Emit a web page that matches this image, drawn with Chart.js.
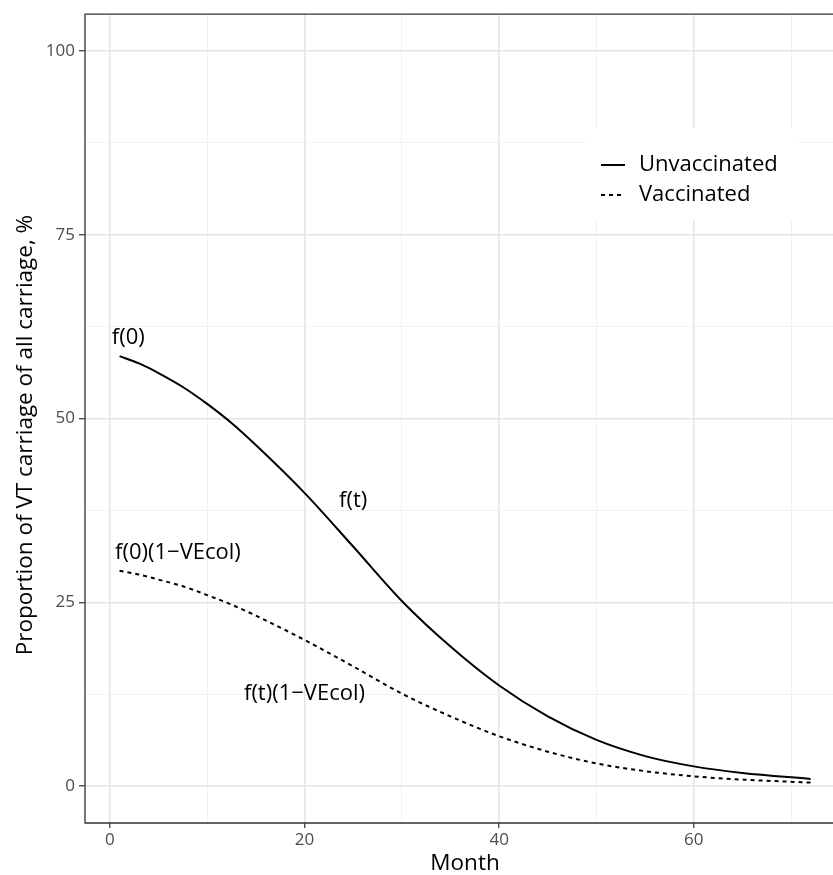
<!DOCTYPE html>
<html>
<head>
<meta charset="utf-8">
<script src="https://cdn.jsdelivr.net/npm/chart.js@4"></script>
<style>
    body { margin: 0; overflow: hidden; background: #fff; }
    #wrap { position: absolute; left: 0; top: 0; width: 833px; height: 875px; }
</style>
</head>
<body>
<div id="wrap"><canvas id="grafico"></canvas></div>
<script>
// valores
let meses = [1, 3, 5, 7.5, 10, 12.5, 15, 20, 25, 30, 35, 40, 45, 50, 55, 60, 65, 72];
let naoVacinados = [58.5, 57.5, 56.2, 54.3, 52.0, 49.4, 46.4, 39.9, 32.6, 25.2, 19.0, 13.7, 9.5, 6.3, 4.1, 2.7, 1.8, 1.0];
let vacinados = [29.3, 28.8, 28.1, 27.2, 26.0, 24.7, 23.2, 19.9, 16.3, 12.6, 9.5, 6.8, 4.7, 3.1, 2.05, 1.35, 0.9, 0.5];

let xTicks = [0, 10, 20, 30, 40, 50, 60, 70];
let xLabels = [0, 20, 40, 60];
let yTicks = [0, 12.5, 25, 37.5, 50, 62.5, 75, 87.5, 100];
let yLabels = [0, 25, 50, 75, 100];

let notasTexto = ["f(0)", "f(t)", "f(0)(1\u2212VEcol)", "f(t)(1\u2212VEcol)"];
let notasX = [1.9, 25, 7, 20];
let notasY = [61, 38.8, 31.8, 12.6];

let tituloY = "Proportion of VT carriage of all carriage, %";
let tituloX = "Month";

const fonte = "'Open Sans', 'DejaVu Sans', sans-serif";

function pontos(ys) {
    return meses.map((m, i) => ({ x: m, y: ys[i] }));
}

// moldura do painel, anotacoes, titulos dos eixos e legenda dentro do grafico
const extras = {
    id: "extras",
    afterDatasetsDraw(chart) {
        const ctx = chart.ctx;
        const xs = chart.scales.x, ys = chart.scales.y;
        const area = chart.chartArea;

        ctx.save();
        ctx.fillStyle = "#000";
        ctx.font = "22px " + fonte;
        ctx.textAlign = "center";
        ctx.textBaseline = "middle";
        notasTexto.forEach((t, i) => {
            ctx.fillText(t, xs.getPixelForValue(notasX[i]), ys.getPixelForValue(notasY[i]));
        });

        // legenda
        ctx.fillStyle = "#fff";
        ctx.fillRect(587, 128, 211, 92);
        chart.data.datasets.forEach((ds, i) => {
            let y = 165 + i * 30;
            ctx.beginPath();
            ctx.strokeStyle = ds.borderColor;
            ctx.lineWidth = ds.borderWidth;
            ctx.setLineDash(ds.borderDash || []);
            ctx.moveTo(601, y);
            ctx.lineTo(625, y);
            ctx.stroke();
            ctx.setLineDash([]);
            ctx.fillStyle = "#000";
            ctx.textAlign = "left";
            ctx.fillText(ds.label, 639, y);
        });

        // moldura (a borda direita fica fora da janela)
        ctx.strokeStyle = "#333";
        ctx.lineWidth = 1.3;
        ctx.beginPath();
        ctx.moveTo(area.right, area.top);
        ctx.lineTo(area.left, area.top);
        ctx.lineTo(area.left, area.bottom);
        ctx.lineTo(area.right, area.bottom);
        ctx.stroke();

        // titulos dos eixos
        ctx.fillStyle = "#000";
        ctx.font = "22.5px " + fonte;
        ctx.textAlign = "center";
        ctx.fillText(tituloX, 465, 864);
        ctx.translate(26, 435);
        ctx.rotate(-Math.PI / 2);
        ctx.fillText(tituloY, 0, 0);
        ctx.restore();
    }
};

let ctx = document.getElementById("grafico").getContext("2d");
new Chart(ctx, {
    type: "line",
    data: {
        datasets: [
            {
                label: "Unvaccinated",
                data: pontos(naoVacinados),
                borderColor: "#000",
                borderWidth: 2,
                pointRadius: 0,
                cubicInterpolationMode: "monotone",
                fill: false
            },
            {
                label: "Vaccinated",
                data: pontos(vacinados),
                borderColor: "#000",
                borderWidth: 2,
                borderDash: [4, 4],
                pointRadius: 0,
                cubicInterpolationMode: "monotone",
                fill: false
            }
        ]
    },
    options: {
        responsive: true,
        maintainAspectRatio: false,
        animation: false,
        layout: { padding: { top: 13, right: 0, bottom: 0, left: 0 } },
        plugins: {
            legend: { display: false },
            tooltip: { enabled: false }
        },
        scales: {
            x: {
                type: "linear",
                min: -2.55,
                max: 74.3,
                afterBuildTicks: s => { s.ticks = xTicks.map(v => ({ value: v })); },
                afterFit: s => { s.height = 52; },
                grid: {
                    color: c => xLabels.includes(c.tick.value) ? "#e4e4e4" : "#eeeeee",
                    lineWidth: c => xLabels.includes(c.tick.value) ? 1.5 : 0.8,
                    tickColor: c => xLabels.includes(c.tick.value) ? "#333" : "rgba(0,0,0,0)",
                    tickLength: 5,
                    tickWidth: 1.2
                },
                border: { display: false },
                ticks: {
                    autoSkip: false,
                    maxRotation: 0,
                    padding: 2,
                    color: "#4d4d4d",
                    font: { family: fonte, size: 17 },
                    callback: v => xLabels.includes(v) ? String(v) : ""
                }
            },
            y: {
                min: -5,
                max: 105,
                afterBuildTicks: s => { s.ticks = yTicks.map(v => ({ value: v })); },
                afterFit: s => { s.width = 85; },
                grid: {
                    color: c => yLabels.includes(c.tick.value) ? "#e4e4e4" : "#eeeeee",
                    lineWidth: c => yLabels.includes(c.tick.value) ? 1.5 : 0.8,
                    tickColor: c => yLabels.includes(c.tick.value) ? "#333" : "rgba(0,0,0,0)",
                    tickLength: 6,
                    tickWidth: 1.2
                },
                border: { display: false },
                ticks: {
                    autoSkip: false,
                    padding: 4,
                    color: "#4d4d4d",
                    font: { family: fonte, size: 17 },
                    callback: v => yLabels.includes(v) ? String(v) : ""
                }
            }
        }
    },
    plugins: [extras]
});
</script>
</body>
</html>
